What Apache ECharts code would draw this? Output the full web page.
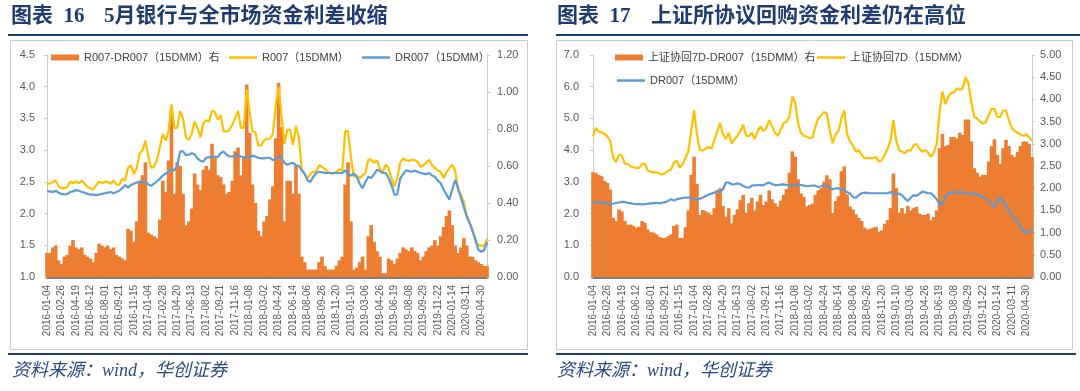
<!DOCTYPE html>
<html><head><meta charset="utf-8">
<script src="https://cdn.jsdelivr.net/npm/echarts@6/dist/echarts.min.js"></script>
<style>html,body{margin:0;padding:0;background:#fff}#c{width:1080px;height:391px}</style>
</head><body><div id="c"></div>
<script>
// x tick labels (every 5th point)
const tickLabels = ['2016-01-04','2016-02-26','2016-04-19','2016-06-12','2016-08-01','2016-09-21','2016-11-15',
 '2017-01-04','2017-02-28','2017-04-20','2017-06-13','2017-08-02','2017-09-21','2017-11-16','2018-01-08',
 '2018-03-02','2018-04-24','2018-06-14','2018-08-06','2018-09-26','2018-11-20','2019-01-10','2019-03-06',
 '2019-04-26','2019-06-19','2019-08-08','2019-09-29','2019-11-22','2020-01-14','2020-03-11','2020-04-30'];

// Chart 16 : R007 (15DMM), left axis
const r007 = [2.48,2.47,2.50,2.52,2.43, 2.40,2.40,2.42,2.50,2.48, 2.50,2.48,2.52,2.47,2.42, 2.40,2.38,2.45,2.50,2.48,
 2.50,2.50,2.47,2.52,2.46, 2.45,2.55,2.52,2.72,2.76, 2.62,2.72,2.95,3.00,3.15, 2.90,2.72,2.74,2.85,3.05,
 3.25,3.15,3.30,3.72,3.35, 3.35,3.62,3.50,3.20,3.16, 3.26,3.45,3.35,3.20,3.42, 3.47,3.45,3.62,3.60,3.48,
 3.55,3.30,3.29,3.32,3.40, 3.50,3.62,3.35,3.35,3.96, 3.60,3.30,3.28,3.07,3.08, 3.15,3.18,3.18,3.25,3.70,
 4.00,3.55,3.10,3.32,3.32, 3.08,3.38,3.20,2.70,2.62, 2.55,2.63,2.66,2.66,2.76, 2.74,2.70,2.66,2.63,2.63,
 2.66,2.70,2.68,3.30,3.30, 2.90,2.58,2.60,2.56,2.60, 2.64,2.85,2.85,2.80,2.84, 2.70,2.66,2.77,2.72,2.55,
 2.43,2.55,2.80,2.87,2.84, 2.83,2.85,2.84,2.82,2.74, 2.76,2.80,2.85,2.76,2.72, 2.68,2.66,2.56,2.65,2.72,
 2.77,2.68,2.36,2.30,2.18, 1.98,1.86,1.75,1.55,1.50, 1.50,1.48,1.60];

// DR007 (15DMM), left axis of both charts
const dr007 = [2.35,2.35,2.34,2.36,2.33, 2.31,2.30,2.31,2.34,2.35, 2.37,2.36,2.34,2.33,2.31, 2.30,2.30,2.29,2.30,2.31,
 2.32,2.33,2.34,2.32,2.34, 2.36,2.40,2.45,2.41,2.45, 2.47,2.49,2.50,2.50,2.50, 2.46,2.44,2.47,2.51,2.55,
 2.60,2.63,2.66,2.70,2.68, 2.76,2.98,2.98,2.92,2.93, 2.95,2.93,2.87,2.83,2.82, 2.88,2.89,2.90,2.90,2.89,
 2.95,2.98,2.93,2.90,2.90, 2.91,2.92,2.90,2.89,2.88, 2.89,2.91,2.90,2.88,2.87, 2.87,2.88,2.88,2.84,2.86,
 2.90,2.88,2.80,2.77,2.79, 2.80,2.76,2.75,2.68,2.63, 2.52,2.50,2.58,2.64,2.66, 2.65,2.64,2.64,2.64,2.64,
 2.64,2.64,2.64,2.68,2.62, 2.60,2.63,2.58,2.47,2.40, 2.50,2.58,2.56,2.62,2.69, 2.67,2.64,2.64,2.56,2.45,
 2.30,2.30,2.55,2.62,2.68, 2.67,2.66,2.68,2.66,2.64, 2.63,2.62,2.64,2.60,2.58, 2.52,2.48,2.38,2.30,2.22,
 2.38,2.53,2.40,2.25,2.10, 1.95,1.85,1.72,1.60,1.43, 1.40,1.42,1.55];

// Chart 16 : R007-DR007 (15DMM), right axis
const spreadBank = [0.13,0.13,0.16,0.17,0.09, 0.07,0.11,0.12,0.17,0.20, 0.16,0.15,0.16,0.12,0.11, 0.10,0.08,0.13,0.18,0.17,
 0.16,0.17,0.15,0.16,0.12, 0.11,0.10,0.09,0.26,0.25, 0.19,0.30,0.52,0.55,0.62, 0.24,0.23,0.22,0.21,0.31,
 0.52,0.46,0.63,0.90,0.45, 0.62,0.60,0.45,0.28,0.30, 0.37,0.56,0.50,0.47,0.58, 0.60,0.58,0.72,0.65,0.55,
 0.54,0.50,0.45,0.46,0.52, 0.68,0.70,0.55,0.65,1.04, 0.78,0.50,0.40,0.25,0.22, 0.30,0.33,0.42,0.49,0.75,
 1.05,0.81,0.30,0.52,0.52, 0.45,0.60,0.45,0.11,0.08, 0.04,0.04,0.04,0.04,0.08, 0.11,0.06,0.04,0.04,0.04,
 0.06,0.09,0.11,0.50,0.62, 0.30,0.04,0.05,0.08,0.11, 0.04,0.22,0.28,0.19,0.14, 0.11,0.02,0.02,0.10,0.09,
 0.07,0.10,0.13,0.16,0.15, 0.14,0.16,0.14,0.13,0.09, 0.11,0.14,0.16,0.17,0.20, 0.17,0.22,0.27,0.33,0.36,
 0.28,0.17,0.13,0.16,0.21, 0.17,0.11,0.11,0.09,0.08, 0.07,0.06,0.06];

// Chart 17 : 上证协回7D (15DMM), left axis
const shRepo = [4.43,4.70,4.59,4.56,4.52, 4.43,4.28,3.75,3.62,3.86, 3.83,3.57,3.57,3.49,3.46, 3.44,3.44,3.57,3.57,3.35,
 3.32,3.30,3.30,3.26,3.23, 3.28,3.35,3.39,3.60,3.68, 3.45,3.55,3.75,3.95,4.60, 5.25,4.50,4.00,3.99,4.05,
 4.10,4.05,4.30,4.58,4.85, 4.50,4.35,4.55,4.20,4.35, 4.45,4.60,4.80,4.45,4.45, 4.55,4.35,4.60,4.75,4.60,
 4.70,4.95,4.75,4.55,4.45, 4.65,4.85,4.90,5.05,5.69, 5.50,4.85,4.55,4.45,4.43, 4.38,4.40,4.75,5.00,5.10,
 5.20,5.15,4.60,4.22,4.50, 4.60,5.00,5.25,4.50,4.28, 4.15,3.95,4.00,3.85,3.75, 3.75,3.75,3.75,3.78,3.64,
 3.68,3.85,4.05,4.30,4.95, 4.30,4.00,3.95,3.90,4.00, 3.98,4.15,4.20,4.05,3.95, 4.00,3.92,3.79,3.92,4.20,
 5.20,5.85,5.45,5.69,5.80, 5.82,5.95,5.90,5.95,6.30, 6.10,5.50,5.05,5.00,4.90, 4.84,4.88,5.10,5.30,5.30,
 5.05,5.05,5.25,5.25,4.95, 4.70,4.60,4.55,4.50,4.45, 4.50,4.40,4.30];

// Chart 17 : 上证协回7D-DR007 (15DMM), right axis
const spreadSh = [2.36,2.34,2.30,2.27,2.16, 2.12,1.97,1.33,1.26,1.52, 1.48,1.26,1.18,1.18,1.15, 1.11,1.13,1.26,1.22,1.07,
 1.01,1.00,0.96,0.90,0.88, 0.88,0.92,0.96,1.15,1.18, 0.88,0.88,1.12,1.50,2.30, 2.71,2.10,1.40,1.51,1.48,
 1.45,1.40,1.55,1.96,2.00, 1.60,1.36,1.55,1.21,1.40, 1.52,1.73,1.85,1.45,1.66, 1.78,1.50,1.70,1.85,1.62,
 1.70,1.95,1.75,1.66,1.59, 1.72,1.85,1.98,2.35,2.83, 2.71,2.20,1.88,1.80,1.59, 1.62,1.65,1.85,1.95,2.00,
 2.15,2.29,2.20,1.44,1.71, 1.82,2.38,2.49,1.86,1.59, 1.52,1.41,1.33,1.26,1.11, 1.07,1.09,1.11,1.13,1.02,
 1.05,1.20,1.28,1.55,2.33, 2.00,1.45,1.55,1.43,1.60, 1.50,1.55,1.58,1.43,1.40, 1.40,1.43,1.28,1.35,1.50,
 2.90,3.22,2.95,2.98,3.15, 3.15,3.12,3.25,3.20,3.55, 3.55,3.05,2.45,2.35,2.26, 2.30,2.30,2.60,2.95,3.10,
 2.75,2.55,2.90,3.09,2.95, 2.75,2.70,2.82,2.95,3.05, 3.05,3.00,2.70];

// categories: every 5th point carries a tick label
const categories = [];
for (let i = 0; i < dr007.length; i++) {
  const j = Math.floor(i / 5);
  categories.push(i % 5 === 0 ? tickLabels[j] : tickLabels[j] + '+' + (i % 5));
}

const ORANGE = '#ED7D31', YELLOW = '#FFC000', BLUE = '#5B9BD5';
const NAVY = '#1f3c70';
const FONT = '"Liberation Sans","Noto Sans CJK SC",sans-serif';
const TFONT = '"Liberation Serif","Noto Sans CJK SC",serif';
const LBL = '#595959';

function xAx(g) {
  return {type:'category', gridIndex:g, data:categories, boundaryGap:false, offset:2,
    axisLine:{lineStyle:{color:'#808080', width:4}}, axisTick:{show:false},
    axisLabel:{interval:4, rotate:90, fontSize:10, color:LBL, margin:6, fontFamily:FONT},
    splitLine:{show:false}};
}
function yAx(g, pos, min, max, step, dec, margin) {
  return {type:'value', gridIndex:g, position:pos, min:min, max:max, interval:step,
    axisLine:{show:true, lineStyle:{color:'#c8c8c8', width:1}},
    axisTick:{show:true, length:3, lineStyle:{color:'#c8c8c8'}},
    axisLabel:{formatter:v=>v.toFixed(dec), fontSize:11, color:LBL, margin:margin, fontFamily:FONT},
    splitLine:{show:false}};
}
function leg(name, left, top, h) {
  return {data:[{name:name, icon:'rect'}], left:left, top:top, itemWidth:28, itemHeight:h, padding:0,
    textStyle:{fontSize:11, color:'#404040', fontFamily:FONT}, selectedMode:false};
}
function txt(x, y, s, size, extra) {
  return Object.assign({type:'text', x:x, y:y, silent:true,
    style:Object.assign({text:s, fontSize:size, fill:NAVY, verticalAlign:'middle', fontFamily:TFONT}, extra||{})});
}
function barS(name, xi, yi, data) {
  return {name:name, type:'bar', xAxisIndex:xi, yAxisIndex:yi, data:data, barWidth:3.6,
    itemStyle:{color:ORANGE}, z:1};
}
function lineS(name, xi, yi, data, color) {
  return {name:name, type:'line', xAxisIndex:xi, yAxisIndex:yi, data:data, symbol:'none',
    lineStyle:{color:color, width:2.2}, itemStyle:{color:color}, z:3};
}

const option = {
  animation:false,
  grid:[{left:47, top:55, width:440, height:222}, {left:593, top:55, width:439, height:222}],
  xAxis:[xAx(0), xAx(1)],
  yAxis:[yAx(0,'left',1,4.5,0.5,1,12), yAx(0,'right',0,1.2,0.2,2,10),
         yAx(1,'left',0,7,1,1,14), yAx(1,'right',0,5,0.5,2,8)],
  legend:[leg('R007-DR007（15DMM）右',51,52,6), leg('R007（15DMM）',229,52,2.5), leg('DR007（15DMM）',362,52,2.5),
          leg('上证协回7D-DR007（15DMM）右',615,52,6), leg('上证协回7D（15DMM）',817,52,2.5), leg('DR007（15DMM）',617,75,2.5)],
  series:[
    barS('R007-DR007（15DMM）右', 0, 1, spreadBank),
    lineS('R007（15DMM）', 0, 0, r007, YELLOW),
    lineS('DR007（15DMM）', 0, 0, dr007, BLUE),
    barS('上证协回7D-DR007（15DMM）右', 1, 3, spreadSh),
    lineS('上证协回7D（15DMM）', 1, 2, shRepo, YELLOW),
    lineS('DR007（15DMM）', 1, 2, dr007, BLUE)
  ],
  graphic:[
    {type:'rect', silent:true, z:-1, shape:{x:10.5,y:40.5,width:517,height:309}, style:{fill:'none', stroke:'#c8c8c8', lineWidth:1}},
    {type:'rect', silent:true, z:-1, shape:{x:556.5,y:40.5,width:516,height:309}, style:{fill:'none', stroke:'#c8c8c8', lineWidth:1}},
    {type:'line', silent:true, shape:{x1:8,y1:35,x2:528,y2:35}, style:{stroke:NAVY, lineWidth:2}},
    {type:'line', silent:true, shape:{x1:556,y1:35,x2:1080,y2:35}, style:{stroke:NAVY, lineWidth:2}},
    {type:'line', silent:true, shape:{x1:8,y1:354,x2:528,y2:354}, style:{stroke:NAVY, lineWidth:2}},
    {type:'line', silent:true, shape:{x1:556,y1:354,x2:1076,y2:354}, style:{stroke:NAVY, lineWidth:2}},
    txt(11,17,'图表  16',21,{fontWeight:'bold'}),
    txt(104,17,'5月银行与全市场资金利差收缩',21,{fontWeight:'bold'}),
    txt(557,17,'图表  17',21,{fontWeight:'bold'}),
    txt(651,17,'上证所协议回购资金利差仍在高位',21,{fontWeight:'bold'}),
    txt(12,371,'资料来源：wind，华创证券',18,{fontStyle:'italic', fill:'#2b4a80'}),
    txt(557,371,'资料来源：wind，华创证券',18,{fontStyle:'italic', fill:'#2b4a80'})
  ]
};
const chart = echarts.init(document.getElementById('c'), null, {renderer:'canvas', width:1080, height:391});
chart.setOption(option);
</script>
</body></html>
